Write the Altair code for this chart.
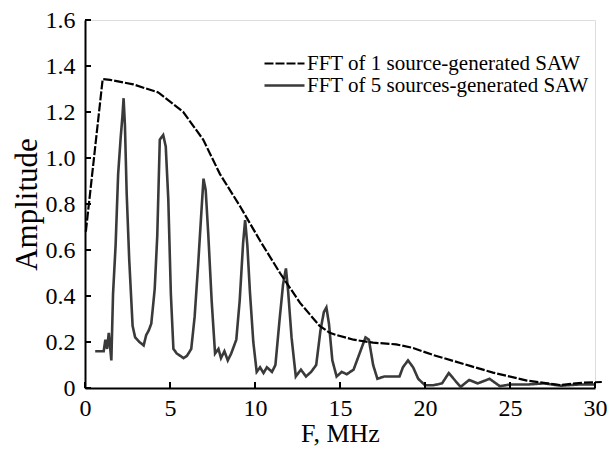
import altair as alt
import pandas as pd

S1 = "FFT of 1 source-generated SAW"
S2 = "FFT of 5 sources-generated SAW"

env_x = [0.05, 1.04, 1.47, 2.84, 4.31, 5.78, 6.95, 7.94, 9.12, 10.3, 11.47, 12.65,
         13.8, 14.4, 14.8, 15.8, 16.95, 18.3, 19.3, 20.5, 21.7, 22.65, 24.0, 26.0,
         27.94, 29.3, 30.4]
env_y = [0.68, 1.343, 1.34, 1.32, 1.285, 1.20, 1.08, 0.93, 0.79, 0.64, 0.50, 0.37,
         0.27, 0.24, 0.23, 0.21, 0.197, 0.19, 0.174, 0.143, 0.117, 0.096, 0.067, 0.032,
         0.013, 0.023, 0.026]

osc_x = [0.6, 1.1, 1.2, 1.3, 1.4, 1.55, 1.65, 1.8, 1.95, 2.1, 2.2, 2.27, 2.35, 2.45,
         2.6, 2.8, 2.95, 3.2, 3.45, 3.6, 3.75, 3.9, 4.1, 4.25, 4.4, 4.6, 4.75, 4.9,
         5.05, 5.2, 5.4, 5.6, 5.8, 6.0, 6.25, 6.45, 6.65, 6.85, 6.97, 7.1, 7.25, 7.45,
         7.65, 7.85, 8.0, 8.2, 8.4, 8.6, 8.9, 9.1, 9.3, 9.42, 9.55, 9.7, 9.9, 10.1,
         10.3, 10.5, 10.7, 11.0, 11.2, 11.45, 11.65, 11.82, 11.95, 12.15, 12.4, 12.7,
         13.0, 13.3, 13.6, 13.85, 14.05, 14.2, 14.35, 14.55, 14.8, 15.1, 15.4, 15.8,
         16.2, 16.5, 16.7, 16.95, 17.2, 17.6, 18.0, 18.5, 18.7, 19.0, 19.3, 19.6, 20.0,
         20.5, 21.0, 21.4, 21.8, 22.1, 22.6, 23.1, 23.8, 24.4, 25.0, 26.0, 27.0, 28.0,
         29.0, 30.0]
osc_y = [0.16, 0.16, 0.21, 0.17, 0.24, 0.12, 0.41, 0.62, 0.93, 1.09, 1.18, 1.26, 1.14,
         0.85, 0.56, 0.27, 0.22, 0.20, 0.185, 0.23, 0.25, 0.28, 0.43, 0.66, 1.08, 1.10,
         1.05, 0.82, 0.41, 0.17, 0.15, 0.14, 0.13, 0.14, 0.17, 0.31, 0.53, 0.77, 0.91,
         0.86, 0.67, 0.38, 0.15, 0.17, 0.13, 0.16, 0.12, 0.15, 0.21, 0.38, 0.63, 0.73,
         0.62, 0.42, 0.20, 0.07, 0.09, 0.065, 0.09, 0.07, 0.10, 0.30, 0.45, 0.52, 0.42,
         0.22, 0.05, 0.08, 0.05, 0.07, 0.10, 0.25, 0.33, 0.35, 0.28, 0.12, 0.05, 0.07,
         0.06, 0.08, 0.16, 0.22, 0.21, 0.10, 0.04, 0.05, 0.05, 0.05, 0.09, 0.12, 0.09,
         0.04, 0.012, 0.012, 0.02, 0.065, 0.03, 0.005, 0.035, 0.02, 0.04, 0.008, 0.015,
         0.015, 0.02, 0.01, 0.015, 0.015]

x_ticks = [0, 5, 10, 15, 20, 25, 30]
y_ticks = [0, 0.2, 0.4, 0.6, 0.8, 1.0, 1.2, 1.4, 1.6]

rows = []
for i, (a, b) in enumerate(zip(osc_x, osc_y)):
    rows.append({"f": a, "amp": b, "series": S2, "i": i})
for i, (a, b) in enumerate(zip(env_x, env_y)):
    rows.append({"f": a, "amp": b, "series": S1, "i": i})
df = pd.DataFrame(rows)

# inward tick marks: tick length expressed in data units of the other axis
XT_LEN = 6 / 230.0   # amplitude units
YT_LEN = 6 / 17.0    # MHz units
xt_df = pd.DataFrame({"t": x_ticks, "b": [0.0] * len(x_ticks), "e": [XT_LEN] * len(x_ticks)})
yt_df = pd.DataFrame({"t": y_ticks, "b": [0.0] * len(y_ticks), "e": [YT_LEN] * len(y_ticks)})

FONT = "Liberation Serif"
xscale = alt.Scale(domain=[0, 30], nice=False, zero=False)
yscale = alt.Scale(domain=[0, 1.6], nice=False)

leg = alt.Legend(
    title=None, orient="none", legendX=188, legendY=32,
    symbolSize=400, symbolStrokeWidth=2, symbolType="M-2,0H2",
    labelFont=FONT, labelFontSize=21, labelColor="black", labelLimit=500,
    labelOffset=11, rowPadding=-6, padding=0,
)

lines = alt.Chart(df).mark_line(clip=False).encode(
    x=alt.X("f:Q", scale=xscale, axis=alt.Axis(
        orient="bottom", values=x_ticks, ticks=False, grid=False, labelFlush=False,
        domainColor="black", domainWidth=2, labelFont=FONT, labelFontSize=24,
        labelColor="black", labelPadding=8, title="F, MHz", titleFont=FONT,
        titleFontSize=26, titleFontWeight="normal", titleColor="black", titlePadding=0)),
    y=alt.Y("amp:Q", scale=yscale, axis=alt.Axis(
        orient="left", values=y_ticks, ticks=False, grid=False, labelFlush=False,
        domainColor="black", domainWidth=2, labelFont=FONT, labelFontSize=24,
        labelColor="black", labelPadding=10,
        labelExpr="datum.value == 0 ? '0' : format(datum.value, '.1f')",
        title="Amplitude", titleFont=FONT, titleFontSize=31,
        titleFontWeight="normal", titleColor="black", titlePadding=2)),
    color=alt.Color("series:N", scale=alt.Scale(domain=[S1, S2], range=["#000000", "#3a3a3a"]), legend=leg),
    strokeDash=alt.StrokeDash("series:N", scale=alt.Scale(domain=[S1, S2], range=[[9, 2], [1, 0]]), legend=leg),
    strokeWidth=alt.StrokeWidth("series:N", scale=alt.Scale(domain=[S1, S2], range=[2.2, 2.6]), legend=leg),
    order=alt.Order("i:Q"),
)

xticks = alt.Chart(xt_df).mark_rule(color="black", strokeWidth=2).encode(
    x=alt.X("t:Q", scale=xscale), y=alt.Y("b:Q", scale=yscale), y2="e:Q",
)
yticks = alt.Chart(yt_df).mark_rule(color="black", strokeWidth=2).encode(
    y=alt.Y("t:Q", scale=yscale), x=alt.X("b:Q", scale=xscale), x2="e:Q",
)

chart = alt.layer(lines, xticks, yticks).properties(
    width=510, height=368,
    padding={"left": 77, "top": 12, "right": 12, "bottom": 58},
    autosize=alt.AutoSizeParams(type="none"),
    background="white",
).configure_view(stroke=None).configure(font=FONT).configure_axis(
    labelFont=FONT, titleFont=FONT).configure_legend(labelFont=FONT)

chart.save("out.html", embed_options={"renderer": "svg", "actions": False})
